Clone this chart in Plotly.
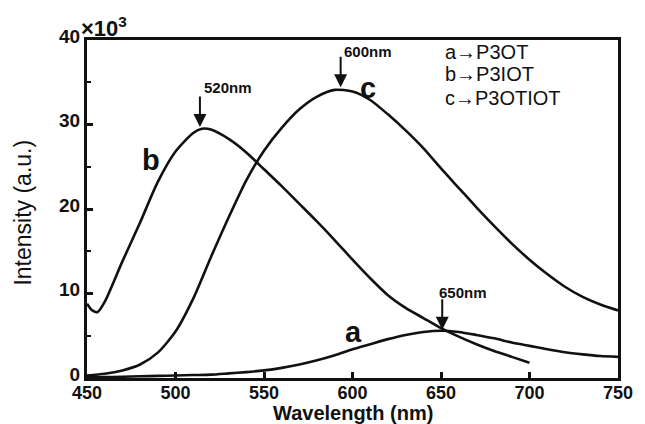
import plotly.graph_objects as go

# ---- data (intensity in units of 10^3) ----
wavelength_a = [450, 460, 470, 480, 490, 500, 510, 520, 530, 540, 550, 560, 570, 580, 590, 600, 610, 620, 630, 640,
                650, 660, 670, 680, 690, 700, 710, 720, 730, 740, 750]
intensity_a = [0.1, 0.1, 0.15, 0.2, 0.25, 0.3, 0.35, 0.4, 0.55, 0.7, 0.9, 1.2, 1.6, 2.1, 2.7, 3.4, 4.0, 4.6, 5.1, 5.45,
               5.6, 5.45, 5.1, 4.7, 4.2, 3.8, 3.4, 3.05, 2.8, 2.6, 2.5]

wavelength_b = [450, 453, 456, 460, 470, 480, 490, 500, 510, 515, 520, 530, 540, 550, 560, 570, 580, 590, 600, 610,
                620, 630, 640, 650, 660, 670, 680, 690, 700]
intensity_b = [8.8, 8.0, 7.8, 9.0, 13.8, 18.4, 23.2, 26.8, 29.0, 29.5, 29.4, 28.3, 26.7, 24.7, 22.7, 20.6, 18.5, 16.3,
               14.0, 11.8, 9.8, 8.3, 7.1, 5.9, 4.9, 4.0, 3.2, 2.5, 1.8]

wavelength_c = [450, 460, 470, 480, 490, 500, 510, 520, 530, 540, 550, 560, 570, 580, 590, 600, 610, 620, 630, 640,
                650, 660, 670, 680, 690, 700, 710, 720, 730, 740, 750]
intensity_c = [0.3, 0.5, 0.9, 1.6, 3.0, 5.5, 9.4, 14.3, 19.0, 23.4, 26.9, 29.6, 31.8, 33.3, 34.1, 33.9, 32.9, 31.2,
               29.3, 27.2, 24.8, 22.5, 20.2, 18.0, 15.9, 14.0, 12.3, 10.8, 9.6, 8.7, 8.0]

x_ticks = [450, 500, 550, 600, 650, 700, 750]
y_ticks = [0, 10, 20, 30, 40]

curve_labels = ["a", "b", "c"]
curve_label_pos = [(600.5, 5.4), (486.4, 25.8), (609.0, 34.3)]
legend_lines = ["a\u2192P3OT", "b\u2192P3IOT", "c\u2192P3OTIOT"]
peak_labels = ["520nm", "600nm", "650nm"]
peak_tips = [(513.8, 29.7), (593.3, 34.4), (650.7, 5.7)]

BLACK = "#111111"
FONT = "Liberation Sans, Arial, sans-serif"

fig = go.Figure()
for xs, ys in [(wavelength_a, intensity_a), (wavelength_b, intensity_b), (wavelength_c, intensity_c)]:
    fig.add_trace(go.Scatter(x=xs, y=ys, mode="lines",
                             line=dict(color=BLACK, width=2.6, shape="spline", smoothing=0.7),
                             showlegend=False, hoverinfo="skip"))

annotations = []
# curve labels
for lab, (lx, ly) in zip(curve_labels, curve_label_pos):
    annotations.append(dict(x=lx, y=ly, xref="x", yref="y", text=lab, showarrow=False,
                            font=dict(family=FONT, size=29, color=BLACK, weight="bold"),
                            xanchor="center", yanchor="middle"))
# legend text
legend_y_px = [52, 74, 98]
for txt, ypx in zip(legend_lines, legend_y_px):
    annotations.append(dict(x=(446 - 87) / 536, y=(378 - ypx) / 338, xref="paper", yref="paper",
                            text=txt, showarrow=False, xanchor="left", yanchor="middle",
                            font=dict(family=FONT, size=20, color=BLACK)))
# peak arrows
for (tx, ty) in peak_tips:
    annotations.append(dict(x=tx, y=ty, xref="x", yref="y", text="", showarrow=True,
                            ax=0, ay=-32, arrowhead=2, arrowsize=1.3, arrowwidth=2,
                            arrowcolor=BLACK, standoff=0))
# peak text
peak_text_px = [(229, 88), (371, 52), (467, 292)]
for txt, (px, py) in zip(peak_labels, peak_text_px):
    annotations.append(dict(x=(px - 87) / 536, y=(378 - py) / 338, xref="paper", yref="paper",
                            text=txt, showarrow=False, xanchor="center", yanchor="middle",
                            font=dict(family=FONT, size=15, color=BLACK, weight="bold")))
# x10^3 multiplier
annotations.append(dict(x=(79 - 87) / 536, y=(378 - 27) / 338, xref="paper", yref="paper",
                        text="\u00d710<sup>3</sup>", showarrow=False, xanchor="left", yanchor="middle",
                        font=dict(family=FONT, size=22, color=BLACK, weight="bold")))
# axis titles
annotations.append(dict(x=0.5, y=(378 - 413) / 338, xref="paper", yref="paper",
                        text="Wavelength (nm)", showarrow=False, xanchor="center", yanchor="middle",
                        font=dict(family=FONT, size=20, color=BLACK, weight="bold")))
annotations.append(dict(x=(22 - 87) / 536, y=(378 - 213) / 338, xref="paper", yref="paper",
                        text="Intensity (a.u.)", showarrow=False, xanchor="center", yanchor="middle",
                        textangle=-90,
                        font=dict(family=FONT, size=23, color=BLACK)))

fig.update_layout(
    width=645, height=424,
    margin=dict(l=87, r=22, t=40, b=46),
    paper_bgcolor="white", plot_bgcolor="white",
    annotations=annotations,
    xaxis=dict(range=[450, 750], tickvals=x_ticks, ticktext=[str(v) for v in x_ticks],
               ticks="inside", ticklen=6, tickwidth=2.5, tickcolor=BLACK,
               showline=True, linecolor=BLACK, linewidth=3, mirror=True,
               showgrid=False, zeroline=False, ticklabelstandoff=-4,
               tickfont=dict(family=FONT, size=18, color=BLACK, weight="bold")),
    yaxis=dict(range=[0, 40], tickvals=y_ticks, ticktext=[str(v) for v in y_ticks],
               ticks="inside", ticklen=6, tickwidth=2.5, tickcolor=BLACK,
               showline=True, linecolor=BLACK, linewidth=3, mirror=True,
               showgrid=False, zeroline=False, ticklabelshift=-4,
               minor=dict(tickvals=[5, 15, 25, 35], ticks="inside", ticklen=4,
                          tickwidth=2, tickcolor=BLACK, showgrid=False),
               tickfont=dict(family=FONT, size=19, color=BLACK, weight="bold")),
)

fig.write_html("out.html")
